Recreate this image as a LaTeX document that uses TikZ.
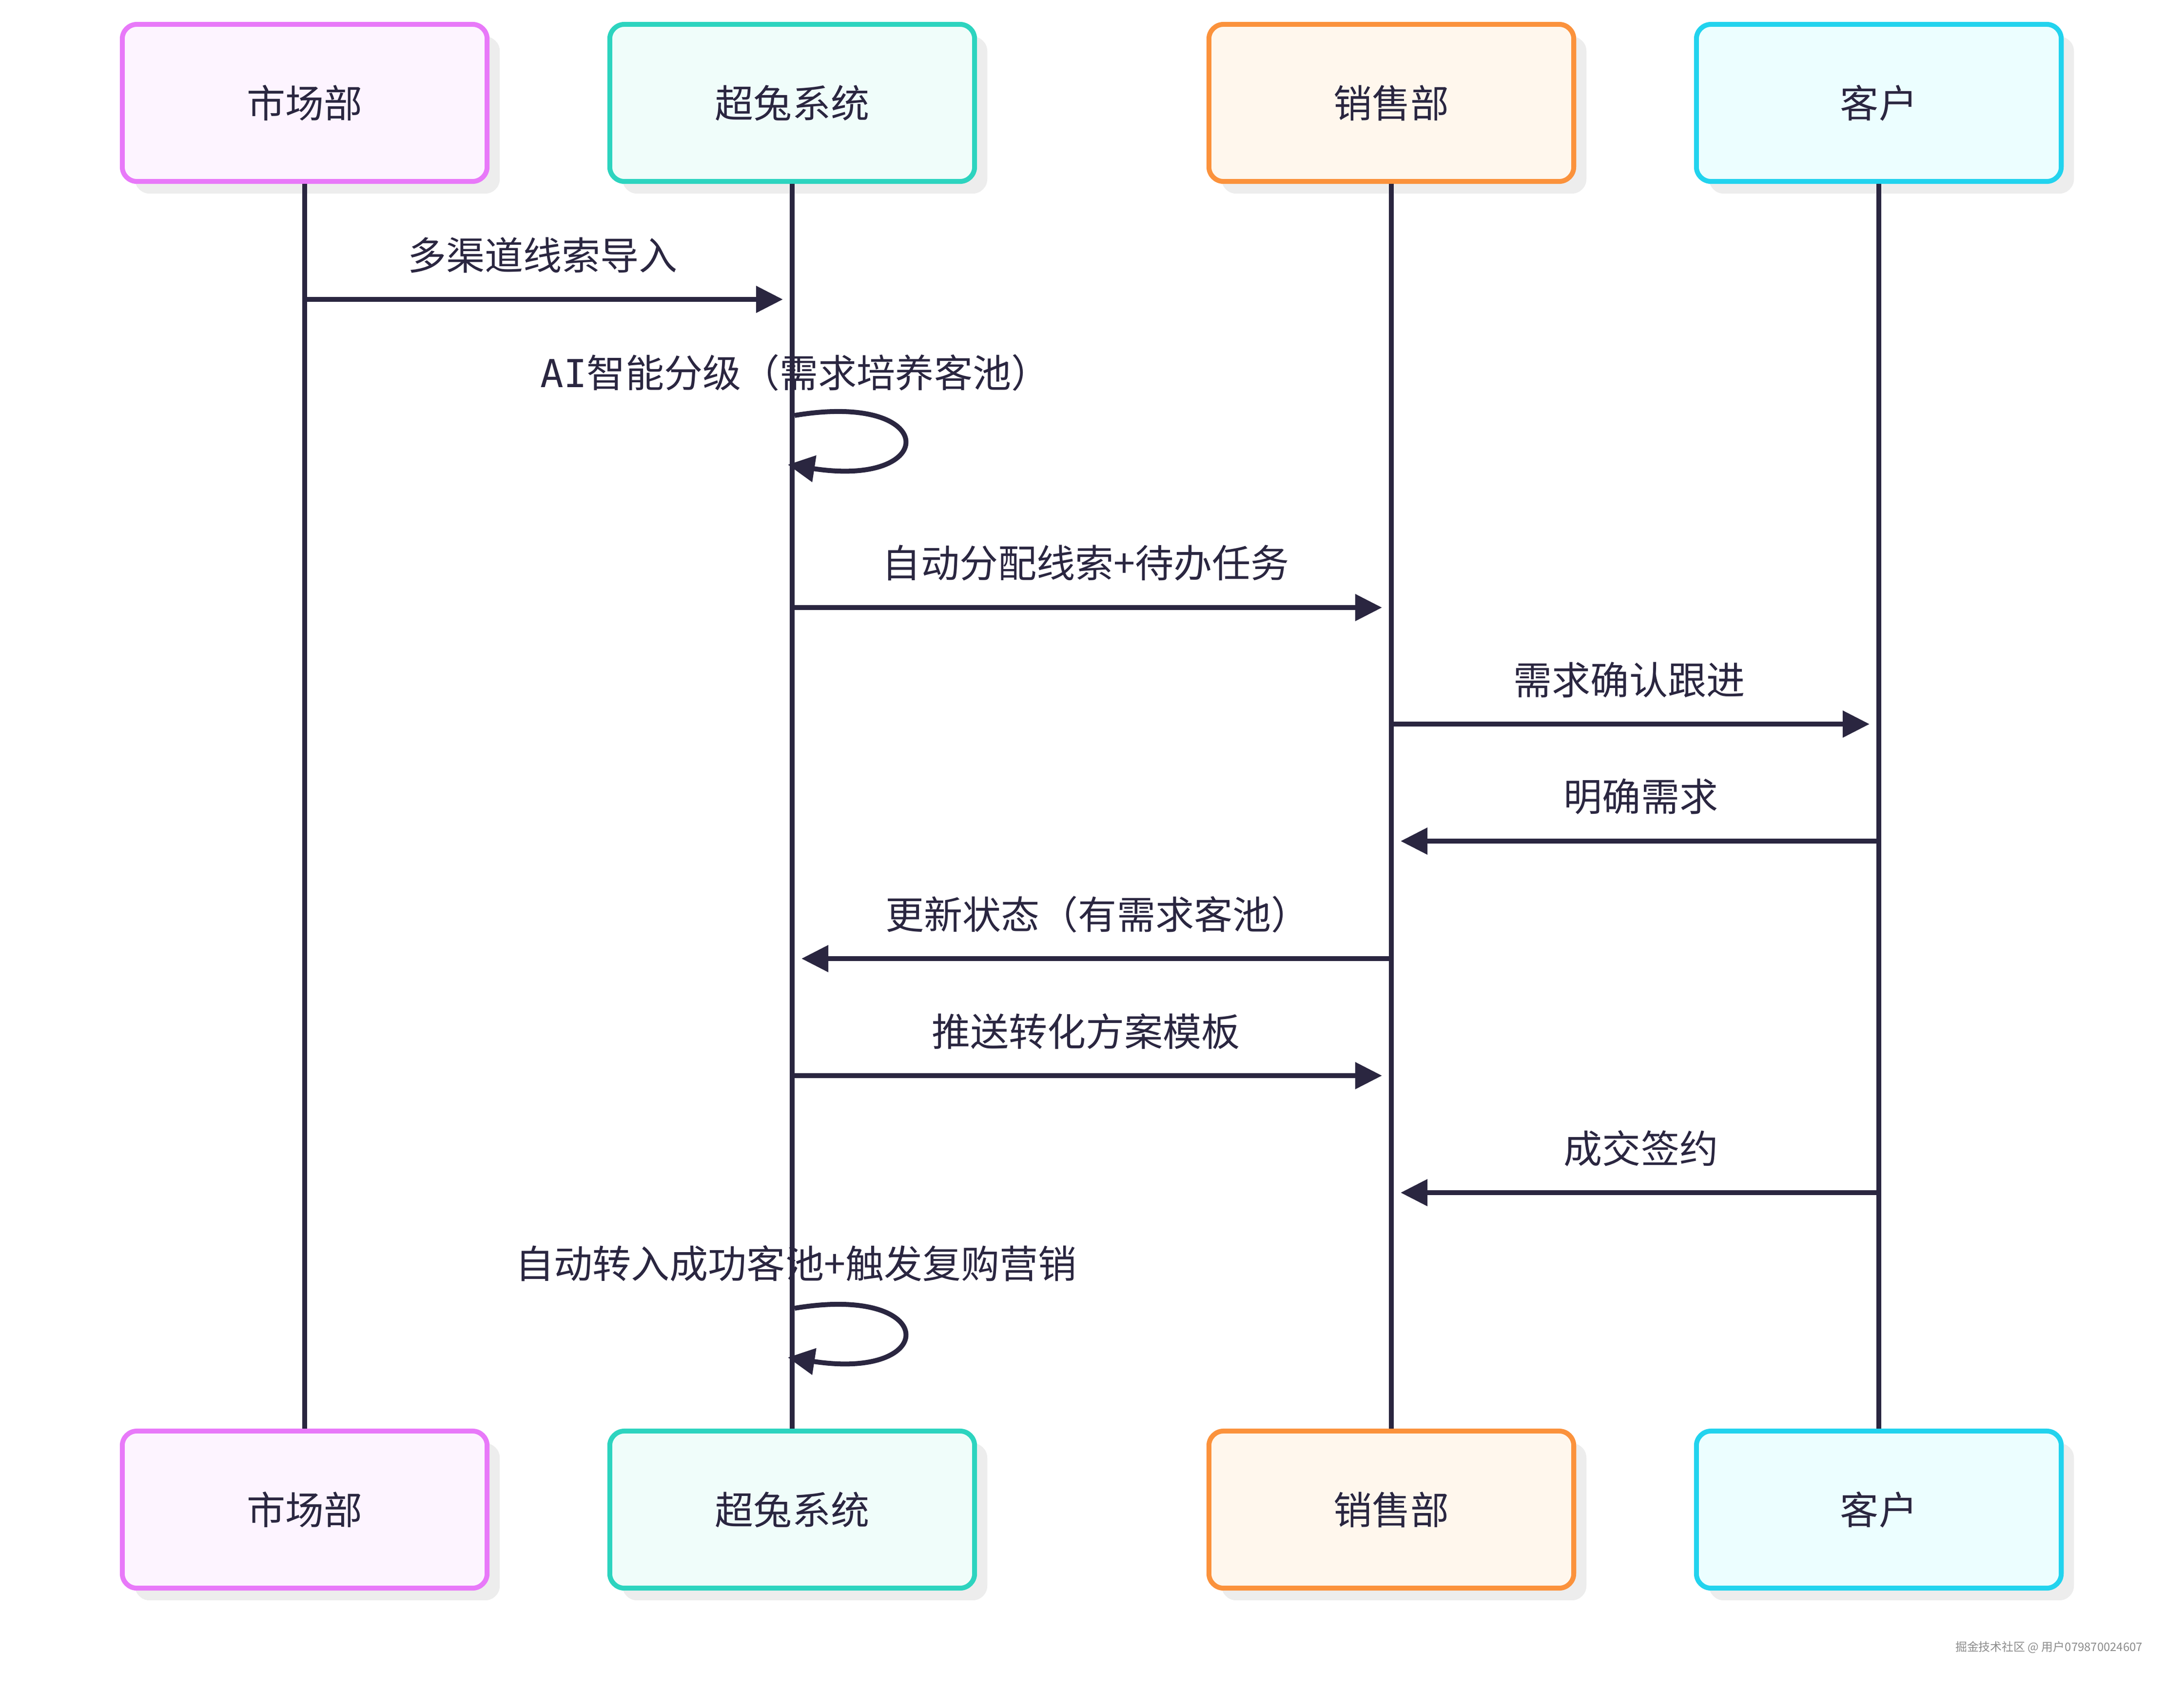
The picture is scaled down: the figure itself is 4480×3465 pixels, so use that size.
\documentclass[tikz,border=0pt]{standalone}
\usepackage{fontspec}
\setmainfont{Noto Sans CJK SC}
\newfontfamily\monofont{DejaVu Sans Mono}
\usepackage{tikz}
\usetikzlibrary{arrows.meta,calc,shadows}
\definecolor{ink}{HTML}{2A2640}
\definecolor{mktline}{HTML}{E879F9}
\definecolor{mktfill}{HTML}{FDF4FF}
\definecolor{sysline}{HTML}{2DD4BF}
\definecolor{sysfill}{HTML}{F0FDFA}
\definecolor{salesline}{HTML}{FB923C}
\definecolor{salesfill}{HTML}{FFF7ED}
\definecolor{custline}{HTML}{22D3EE}
\definecolor{custfill}{HTML}{ECFEFF}
\tikzset{actor/.style={rectangle,rounded corners=0.3cm,line width=2.85pt,
        minimum width=7.48cm,minimum height=3.22cm,inner sep=0pt,text=ink,
        font=\fontsize{22.5pt}{27pt}\selectfont,
        drop shadow={shadow xshift=0.26cm,shadow yshift=-0.25cm,fill=black!7,opacity=1}},
    mkt/.style={draw=mktline,fill=mktfill},
    sys/.style={draw=sysline,fill=sysfill},
    sales/.style={draw=salesline,fill=salesfill},
    cust/.style={draw=custline,fill=custfill},
    lifeline/.style={draw=ink,line width=2.7pt},
    msg/.style={draw=ink,line width=2.85pt,
        -{Triangle[length=0.55cm,width=0.53cm]},shorten >=0.19cm},
    selfmsg/.style={draw=ink,line width=2.85pt,-{Triangle[length=0.55cm,width=0.53cm]}},
    msgtext/.style={text=ink,inner sep=0pt,font=\fontsize{22.5pt}{27pt}\selectfont}}

\begin{document}
\begin{tikzpicture}[x=0.01cm,y=-0.01cm]
\useasboundingbox (0,0) rectangle (4480,3465);
\node[actor,mkt] (mktT) at (625,211) {市场部};
\node[actor,sys] (sysT) at (1625,211) {超兔系统};
\node[actor,sales] (salesT) at (2854,211) {销售部};
\node[actor,cust] (custT) at (3854,211) {客户};
\node[actor,mkt] (mktB) at (625,3096) {市场部};
\node[actor,sys] (sysB) at (1625,3096) {超兔系统};
\node[actor,sales] (salesB) at (2854,3096) {销售部};
\node[actor,cust] (custB) at (3854,3096) {客户};
\foreach \a in {mkt,sys,sales,cust}
    \draw[lifeline] (\a T.south) -- (\a B.north);
\coordinate (r1) at (0,614);
\coordinate (l1) at (0,852);
\coordinate (r3) at (0,1246);
\coordinate (r4) at (0,1485);
\coordinate (r5) at (0,1725);
\coordinate (r6) at (0,1966);
\coordinate (r7) at (0,2206);
\coordinate (r8) at (0,2446);
\coordinate (l9) at (0,2683);
\draw[msg] (mktT |- r1) -- (sysT |- r1)
    node[msgtext,midway,xshift=-0.12cm,yshift=0.91cm] {多渠道线索导入};
\draw[selfmsg] ($(sysT |- l1)+(5,0)$)
    node[msgtext,xshift=0.01cm,yshift=0.88cm] {{\monofont AI}智能分级（需求培养客池）}
    .. controls +(298,-50) and +(312,48) .. ($(sysT |- l1)+(-9,101)$);
\draw[msg] (sysT |- r3) -- (salesT |- r3)
    node[msgtext,midway,xshift=-0.12cm,yshift=0.91cm] {自动分配线索+待办任务};
\draw[msg] (salesT |- r4) -- (custT |- r4)
    node[msgtext,midway,xshift=-0.12cm,yshift=0.91cm] {需求确认跟进};
\draw[msg] (custT |- r5) -- (salesT |- r5)
    node[msgtext,midway,xshift=0.12cm,yshift=0.91cm] {明确需求};
\draw[msg] (salesT |- r6) -- (sysT |- r6)
    node[msgtext,midway,xshift=0.12cm,yshift=0.91cm] {更新状态（有需求客池）};
\draw[msg] (sysT |- r7) -- (salesT |- r7)
    node[msgtext,midway,xshift=-0.12cm,yshift=0.91cm] {推送转化方案模板};
\draw[msg] (custT |- r8) -- (salesT |- r8)
    node[msgtext,midway,xshift=0.12cm,yshift=0.91cm] {成交签约};
\draw[selfmsg] ($(sysT |- l9)+(5,0)$)
    node[msgtext,xshift=0.03cm,yshift=0.92cm] {自动转入成功客池+触发复购营销}
    .. controls +(298,-50) and +(312,48) .. ($(sysT |- l9)+(-9,101)$);
\node[text=black!45,font=\fontsize{6.8pt}{8pt}\selectfont] (mark) at (4203,3378)
    {掘金技术社区 @ 用户079870024607};
\end{tikzpicture}
\end{document}
